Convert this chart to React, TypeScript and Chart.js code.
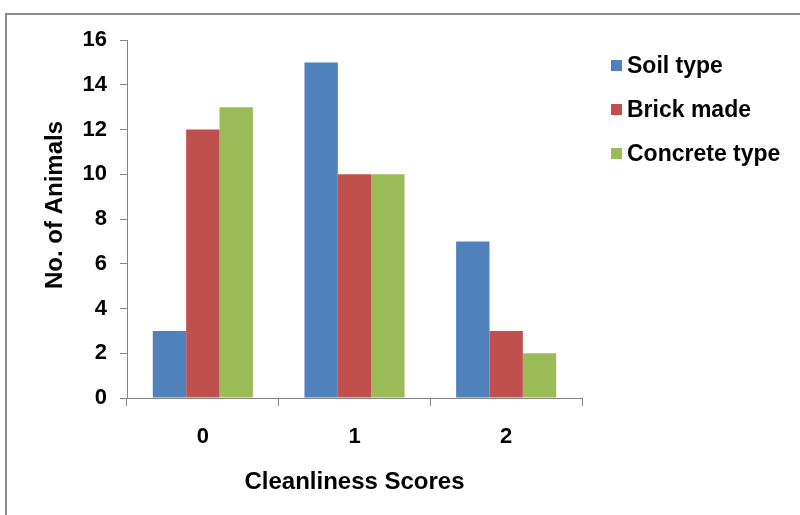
import React, { useEffect, useRef } from "react";
import { Chart, registerables } from "chart.js";

Chart.register(...registerables);

const categories = ["0", "1", "2"];
const seriesNames = ["Soil type", "Brick made", "Concrete type"];
const soilType = [3, 15, 7];
const brickMade = [12, 10, 3];
const concreteType = [13, 10, 2];
const seriesColors = ["#4F81BD", "#C0504D", "#9BBB59"];
const yMin = 0;
const yMax = 16;
const yStep = 2;
const xTitle = "Cleanliness Scores";
const yTitle = "No. of Animals";

const FONT = "'Liberation Sans', Arial, sans-serif";
const AXIS_GRAY = "#868686";

const framePlugin = {
  id: "frame",
  beforeDraw(chart: any) {
    const ctx = chart.ctx;
    ctx.save();
    ctx.fillStyle = "#ffffff";
    ctx.fillRect(0, 0, chart.width, chart.height);
    ctx.strokeStyle = "#8a8a8a";
    ctx.lineWidth = 2;
    ctx.strokeRect(6, 14, chart.width + 10, chart.height + 10);
    ctx.restore();
  },
};

const yTitlePlugin = {
  id: "yTitle",
  afterDraw(chart: any) {
    const ctx = chart.ctx;
    ctx.save();
    ctx.translate(55, 205);
    ctx.rotate(-Math.PI / 2);
    ctx.fillStyle = "#000000";
    ctx.font = `bold 24px ${FONT}`;
    ctx.textAlign = "center";
    ctx.textBaseline = "middle";
    ctx.fillText(yTitle, 0, 0);
    ctx.restore();
  },
};

const legendPlugin = {
  id: "customLegend",
  afterDraw(chart: any) {
    const ctx = chart.ctx;
    ctx.save();
    const x0 = 611;
    const yStart = 65.5;
    const gap = 44;
    const box = 11;
    chart.data.datasets.forEach((ds: any, i: number) => {
      const cy = yStart + i * gap;
      ctx.fillStyle = ds.backgroundColor;
      ctx.fillRect(x0, cy - box / 2, box, box);
      ctx.fillStyle = "#000000";
      ctx.font = `bold 23px ${FONT}`;
      ctx.textAlign = "left";
      ctx.textBaseline = "middle";
      ctx.fillText(ds.label, x0 + 16, cy + 1);
    });
    ctx.restore();
  },
};

export default function App() {
  const ref = useRef<HTMLCanvasElement | null>(null);

  useEffect(() => {
    document.body.style.margin = "0";
    const canvas = ref.current;
    if (!canvas) return;
    const values = [soilType, brickMade, concreteType];
    const chart = new Chart(canvas, {
      type: "bar",
      data: {
        labels: categories,
        datasets: seriesNames.map((name, i) => ({
          label: name,
          data: values[i],
          backgroundColor: seriesColors[i],
          borderWidth: 0,
          categoryPercentage: 0.66,
          barPercentage: 1.0,
        })),
      },
      options: {
        responsive: false,
        animation: false,
        layout: { padding: { left: 0, top: 40, right: 218, bottom: 0 } },
        plugins: {
          legend: { display: false },
          tooltip: { enabled: false },
        },
        scales: {
          x: {
            grid: {
              display: true,
              drawOnChartArea: false,
              drawTicks: true,
              tickLength: 8,
              color: AXIS_GRAY,
              offset: true,
            },
            border: { display: true, color: AXIS_GRAY, width: 1 },
            ticks: {
              color: "#000",
              padding: 18,
              font: { family: FONT, weight: "bold", size: 22 },
            },
            title: {
              display: true,
              text: xTitle,
              color: "#000",
              font: { family: FONT, weight: "bold", size: 24 },
              padding: { top: 0, bottom: 18 },
            },
            afterFit: (s: any) => {
              s.height = 117;
            },
          },
          y: {
            min: yMin,
            max: yMax,
            grid: {
              display: true,
              drawOnChartArea: false,
              drawTicks: true,
              tickLength: 7,
              color: AXIS_GRAY,
            },
            border: { display: true, color: AXIS_GRAY, width: 1 },
            ticks: {
              stepSize: yStep,
              color: "#000",
              padding: 13,
              font: { family: FONT, weight: "bold", size: 22 },
            },
            title: { display: false },
            afterFit: (s: any) => {
              s.width = 127;
            },
          },
        },
      } as any,
      plugins: [framePlugin, yTitlePlugin, legendPlugin],
    });
    return () => chart.destroy();
  }, []);

  return (
    <div style={{ position: "absolute", left: 0, top: 0, width: 800, height: 515 }}>
      <canvas ref={ref} width={800} height={515} style={{ display: "block" }} />
    </div>
  );
}
